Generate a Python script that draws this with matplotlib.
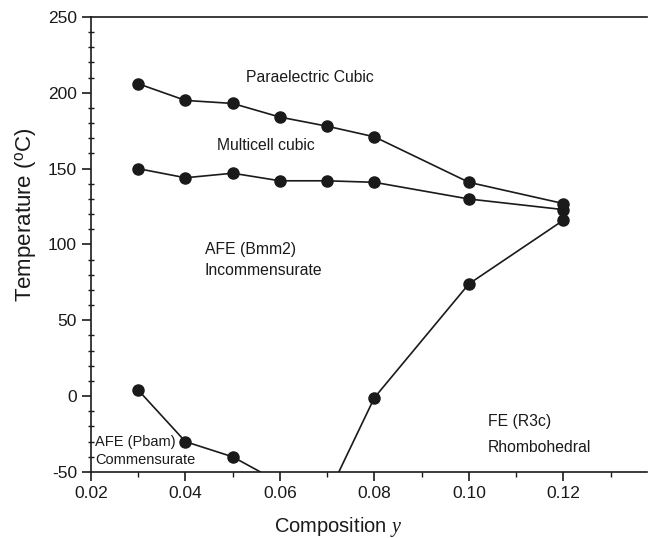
import matplotlib
matplotlib.use('Agg')
import matplotlib.pyplot as plt
from matplotlib.ticker import MultipleLocator

plt.rcParams['font.family'] = ['Liberation Sans', 'DejaVu Sans']
plt.rcParams['mathtext.fontset'] = 'custom'
plt.rcParams['mathtext.rm'] = 'Liberation Sans'
plt.rcParams['mathtext.it'] = 'Liberation Serif:italic'
plt.rcParams['axes.unicode_minus'] = False

# transition lines
para_x = [0.03, 0.04, 0.05, 0.06, 0.07, 0.08, 0.10, 0.12]
para_t = [206, 195, 193, 184, 178, 171, 141, 127]

multi_x = [0.03, 0.04, 0.05, 0.06, 0.07, 0.08, 0.10, 0.12]
multi_t = [150, 144, 147, 142, 142, 141, 130, 123]

fe_x = [0.08, 0.10, 0.12]
fe_t = [-1, 74, 116]
fe_tail_x = [0.07, 0.08]      # line continues below the axis
fe_tail_t = [-66, -1]

afe_x = [0.03, 0.04, 0.05]
afe_t = [4, -30, -40]
afe_tail_x = [0.05, 0.06]
afe_tail_t = [-40, -57]

fig = plt.figure(figsize=(6.48, 5.38), dpi=100)
ax = fig.add_axes([0.1404, 0.1227, 0.858, 0.8457])

ink = '#1a1a1a'
style = dict(color=ink, lw=1.2, marker='o', ms=8)
ax.plot(para_x, para_t, **style)
ax.plot(multi_x, multi_t, **style)
ax.plot(fe_x, fe_t, **style)
ax.plot(afe_x, afe_t, **style)
ax.plot(fe_tail_x, fe_tail_t, color=ink, lw=1.2)
ax.plot(afe_tail_x, afe_tail_t, color=ink, lw=1.2)

ax.set_xlim(0.02, 0.1377)
ax.set_ylim(-50, 250)
ax.xaxis.set_minor_locator(MultipleLocator(0.01))
ax.yaxis.set_major_locator(MultipleLocator(50))
ax.yaxis.set_minor_locator(MultipleLocator(10))
ax.set_xticks([0.02, 0.04, 0.06, 0.08, 0.10, 0.12])
ax.set_xticklabels(['0.02', '0.04', '0.06', '0.08', '0.10', '0.12'])
ax.tick_params(which='major', direction='out', length=6.5, width=1.2, labelsize=12.5, colors=ink)
ax.tick_params(which='minor', direction='out', length=3.5, width=1.0, colors=ink)
ax.tick_params(axis='y', which='minor', direction='inout', length=5)
ax.spines['right'].set_visible(False)
for s in ax.spines.values():
    s.set_linewidth(1.2)
    s.set_color(ink)

ax.set_xlabel('Composition $\\mathit{y}$', fontsize=14.5, color=ink)
ax.set_ylabel('Temperature ($^{\\rm o}$C)', fontsize=16, color=ink)
ax.xaxis.set_label_coords(0.445, -0.095)
ax.yaxis.set_label_coords(-0.096, 0.565)

tk = dict(fontsize=11.3, color=ink, va='center', ha='left')
ax.text(0.0663, 210, 'Paraelectric Cubic', ha='center', va='center', fontsize=11.3, color=ink)
ax.text(0.0467, 165, 'Multicell cubic', **tk)
ax.text(0.0441, 97, 'AFE (Bmm2)', **tk)
ax.text(0.0441, 83, 'Incommensurate', **tk)
ax.text(0.104, -17, 'FE (R3c)', **tk)
ax.text(0.104, -34, 'Rhombohedral', **tk)
ax.text(0.0208, -30, 'AFE (Pbam)', fontsize=10.5, color=ink, va='center', ha='left')
ax.text(0.0208, -42, 'Commensurate', fontsize=10.5, color=ink, va='center', ha='left')

fig.savefig('out.png', dpi=100)
